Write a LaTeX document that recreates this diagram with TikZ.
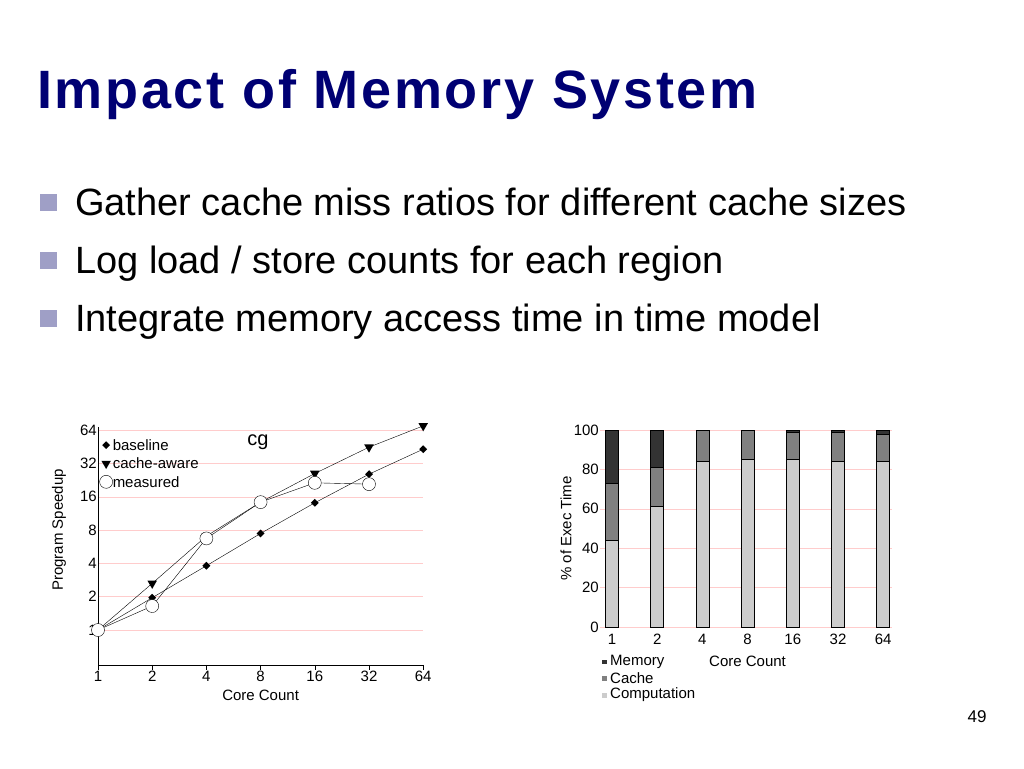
\documentclass[tikz,border=0pt]{standalone}
\usepackage{fontspec}
\setmainfont{Liberation Sans}
\usetikzlibrary{shapes.geometric}
\begin{document}
\begin{tikzpicture}[x=1pt,y=-1pt,
  ttl/.style={anchor=base west,inner sep=0pt,font=\fontsize{54}{54}\selectfont\bfseries\addfontfeature{LetterSpace=5},text=blue!45!black},
  bul/.style={anchor=base west,inner sep=0pt,font=\fontsize{38}{38}\selectfont},
  sq/.style={fill=blue!25!gray!60,minimum size=17pt,inner sep=0pt},
  lbl/.style={font=\fontsize{15}{15}\selectfont,inner sep=1pt},
  grid/.style={red!20,line width=0.6pt},
  dia/.style={fill=black,diamond,inner sep=0pt,minimum size=8pt},
  tri/.style={fill=black,regular polygon,regular polygon sides=3,shape border rotate=180,inner sep=0pt,minimum size=11pt},
  circ/.style={circle,draw=black,fill=white,inner sep=0pt,minimum size=13pt},
  bar/.style={draw=black,line width=0.8pt}]
\useasboundingbox (0,0) rectangle (1024,768);
\node[ttl] (title) at (37,108) {Impact of Memory System};
\node[sq] (s1) at (48,202) {}; \node[bul] (b1) at (75,215) {Gather cache miss ratios for different cache sizes};
\node[sq] (s2) at (48,260) {}; \node[bul] (b2) at (75,273) {Log load / store counts for each region};
\node[sq] (s3) at (48,318) {}; \node[bul] (b3) at (75,331) {Integrate memory access time in time model};
\node[font=\fontsize{17}{17}\selectfont] (pg) at (977,717) {49};
% left chart
\begin{scope}[shift={(98,630)},x=54.2pt,y=33.3pt]
 \foreach \i/\l in {0/1,1/2,2/4,3/8,4/16,5/32,6/64}{
   \draw[grid] (0,\i)--(6,\i);
   \node[lbl,anchor=east] at (0,\i) {\l};
   \draw (\i,-1.05)--(\i,-1.2);
   \node[lbl,anchor=north] at (\i,-1.2) {\l};}
 \draw[line width=0.8pt] (0,6.1)--(0,-1.05)--(6,-1.05);
 \node[lbl] (xl) at (3,-1.95) {Core Count};
 \node[lbl,rotate=90] (yl) at (-0.72,3) {Program Speedup};
 \draw (0,0)--(1,0.97)--(2,1.93)--(3,2.9)--(4,3.82)--(5,4.68)--(6,5.43);
 \draw (0,0)--(1,1.4)--(2,2.82)--(3,3.84)--(4,4.7)--(5,5.49)--(6,6.13);
 \draw (0,0)--(1,0.72)--(2,2.75)--(3,3.84)--(4,4.42)--(5,4.38);
 \foreach \x/\y in {0/0,1/0.97,2/1.93,3/2.9,4/3.82,5/4.68,6/5.43} \node[dia] at (\x,\y) {};
 \foreach \x/\y in {0/0,1/1.4,2/2.82,3/3.84,4/4.7,5/5.49,6/6.13} \node[tri] at (\x,\y) {};
 \foreach \x/\y in {0/0,1/0.72,2/2.75,3/3.84,4/4.42,5/4.38} \node[circ] at (\x,\y) {};
 \node[font=\fontsize{20}{20}\selectfont] (cg) at (2.95,5.65) {cg};
 \node[dia] at (0.15,5.55) {}; \node[lbl,anchor=west] at (0.25,5.55) {baseline};
 \node[tri] at (0.15,5.0) {}; \node[lbl,anchor=west] at (0.25,5.0) {cache{-}aware};
 \node[circ] at (0.15,4.45) {}; \node[lbl,anchor=west] at (0.25,4.45) {measured};
\end{scope}
% right chart
\begin{scope}[shift={(600,627)},x=1pt,y=1.97pt]
 \foreach \v in {0,20,...,100}{\draw[grid] (0,\v)--(292,\v); \node[lbl,anchor=east] at (0,\v) {\v};}
 \node[lbl,rotate=90] at (-34,50) {\% of Exec Time};
 \foreach \i/\l/\c/\k in {0/1/44/73,1/2/61/81,2/4/84/100,3/8/85/100,4/16/85/99,5/32/84/99,6/64/84/98}{
   \pgfmathsetmacro\xc{12+45.2*\i}
   \fill[black!20] (\xc-6.5,0) rectangle (\xc+6.5,\c);
   \fill[black!50] (\xc-6.5,\c) rectangle (\xc+6.5,\k);
   \fill[black!80] (\xc-6.5,\k) rectangle (\xc+6.5,100);
   \draw[bar] (\xc-6.5,0) rectangle (\xc+6.5,100);
   \draw[bar] (\xc-6.5,\c)--(\xc+6.5,\c);
   \draw[bar] (\xc-6.5,\k)--(\xc+6.5,\k);
   \node[lbl,anchor=north] at (\xc,-3) {\l};}
 \node[lbl,anchor=west] (cc) at (108,-17.5) {Core Count};
 \fill[black!80] (2,-16.5) rectangle (7,-19); \node[lbl,anchor=west] at (9,-17.5) {Memory};
 \fill[black!50] (2,-25) rectangle (7,-27.5); \node[lbl,anchor=west] at (9,-26) {Cache};
 \fill[black!20] (2,-33.5) rectangle (7,-36); \node[lbl,anchor=west] at (9,-34.5) {Computation};
\end{scope}
\end{tikzpicture}
\end{document}
